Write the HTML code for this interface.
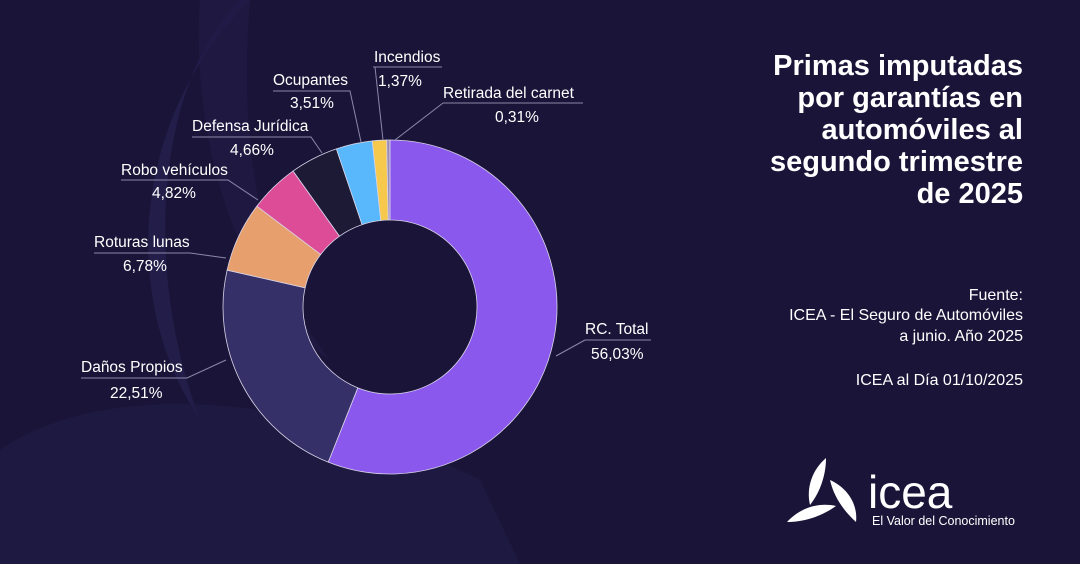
<!DOCTYPE html>
<html><head><meta charset="utf-8"><style>
body{margin:0;width:1080px;height:564px;overflow:hidden;background:#1a1538;font-family:"Liberation Sans",sans-serif;}
svg{position:absolute;left:0;top:0}
</style></head><body>
<svg id="s" width="1080" height="564" viewBox="0 0 1080 564">
<path d="M250,0 L240,0 C160,80 140,260 200,420 C120,300 130,120 250,0Z" fill="#231d4a"/>
<path d="M200,0 L250,0 C240,120 250,260 330,360 C240,300 190,140 200,0Z" fill="#201a45" opacity="0.8"/>
<path d="M0,450 C100,380 300,390 480,480 L520,564 L0,564Z" fill="#211b46" opacity="0.7"/>
<g id="pie"></g>
<g fill="none" stroke="#8c88a8" stroke-width="1">
<path d="M373,67 H442 M375,67 L383,140"/>
<path d="M273,91 H350 L361,142"/>
<path d="M443,103 H583 M443,103 L395,140"/>
<path d="M192,137 H311 L322,153"/>
<path d="M121,180 H228 L258,200"/>
<path d="M94,253 H190 L226,258"/>
<path d="M81,378 H187 L226,360"/>
<path d="M585,340 H651 M585,340 L556,356"/>
</g>
<g fill="#fff" font-size="15.5">
<text x="374" y="62">Incendios</text><text x="378" y="86">1,37%</text>
<text x="273" y="85">Ocupantes</text><text x="290" y="108">3,51%</text>
<text x="443" y="98">Retirada del carnet</text><text x="495" y="122">0,31%</text>
<text x="192" y="131">Defensa Jurídica</text><text x="230" y="155">4,66%</text>
<text x="121" y="175">Robo vehículos</text><text x="152" y="198">4,82%</text>
<text x="94" y="247">Roturas lunas</text><text x="123" y="271">6,78%</text>
<text x="81" y="372">Daños Propios</text><text x="110" y="398">22,51%</text>
<text x="585" y="334">RC. Total</text><text x="591" y="359">56,03%</text>
</g>
<g fill="#fff" font-size="29" font-weight="bold" text-anchor="end">
<text x="1023" y="75">Primas imputadas</text>
<text x="1023" y="107">por garantías en</text>
<text x="1023" y="139">automóviles al</text>
<text x="1023" y="171">segundo trimestre</text>
<text x="1023" y="203">de 2025</text>
</g>
<g fill="#fff" font-size="16" text-anchor="end">
<text x="1023" y="300">Fuente:</text>
<text x="1023" y="320">ICEA - El Seguro de Automóviles</text>
<text x="1023" y="341">a junio. Año 2025</text>
<text x="1023" y="385">ICEA al Día 01/10/2025</text>
</g>
<g fill="#fff">
<path d="M826,458 C812,470 806,488 810,505 C818,495 826,478 826,458Z"/>
<path d="M830,480 C848,488 858,505 856,522 C845,512 834,498 830,480Z"/>
<path d="M787,522 C800,508 818,502 836,506 C822,516 805,522 787,522Z"/>
<text x="868" y="508" font-size="46">icea</text>
<text x="872" y="525" font-size="12.5">El Valor del Conocimiento</text>
</g>
</svg>
<script>
var d=[[56.03,"#8b58ee"],[22.51,"#363068"],[6.78,"#e89f6e"],[4.82,"#dd4c96"],[4.66,"#1d1a36"],[3.51,"#58b8fb"],[1.37,"#f6c84b"],[0.31,"#9a8ab8"]];
var cx=390,cy=307,R=167,r=87,a=0,h="";
function p(rad,t){return [cx+rad*Math.sin(t),cy-rad*Math.cos(t)];}
d.forEach(function(x){var b=a+x[0]/100*2*Math.PI,l=(b-a)>Math.PI?1:0;
var A=p(R,a),B=p(R,b),C=p(r,b),D=p(r,a);
h+='<path d="M'+A+' A'+R+','+R+' 0 '+l+' 1 '+B+' L'+C+' A'+r+','+r+' 0 '+l+' 0 '+D+'Z" fill="'+x[1]+'" stroke="#d8d4e8" stroke-width="0.8"/>';a=b;});
document.getElementById("pie").innerHTML=h;
</script>
</body></html>
